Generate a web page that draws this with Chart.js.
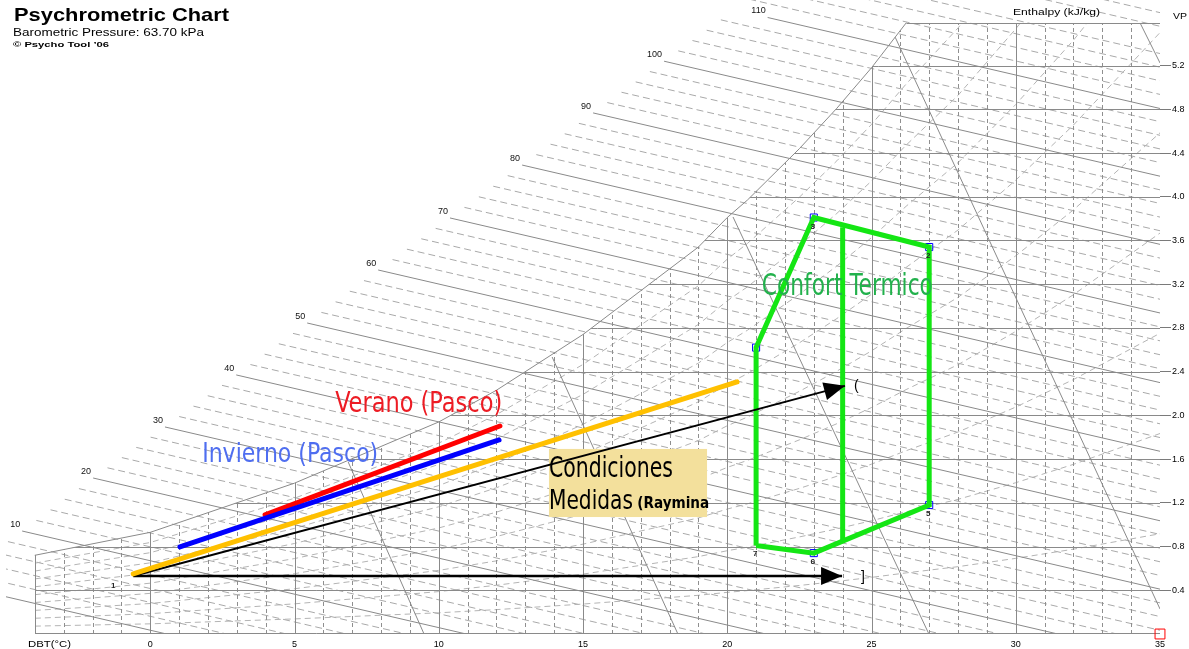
<!DOCTYPE html>
<html>
<head>
<meta charset="utf-8">
<title>Psychrometric Chart</title>
<script src="https://cdn.jsdelivr.net/npm/chart.js@4.4.1/dist/chart.umd.min.js"></script>
<style>
  html, body { margin: 0; padding: 0; background: #fff; overflow: hidden; }
  canvas { display: block; }
</style>
</head>
<body>
<canvas id="psyChart" width="1189" height="649"></canvas>
<script>
// ---- values: DBT in °C, VP in kPa ----

// saturation curve
const satT  = [-4, 0, 5, 10, 12, 15, 19, 20, 20.7, 22.5, 23.8, 25, 26.2];
const satVP = [0.72, 0.93, 1.38, 1.94, 2.23, 2.74, 3.54, 3.81, 3.97, 4.44, 4.81, 5.18, 5.59];
// estimated beyond the frame, only to finish the RH curves
const satExtT  = [28, 30, 32, 35];
const satExtVP = [6.16, 6.92, 7.76, 9.17];
const rhLevels = [0.1, 0.2, 0.3, 0.4, 0.5, 0.6, 0.7, 0.8, 0.9];

// enthalpy scale (kJ/kg): start of each labelled line, common slope
const enthLabels  = [10, 20, 30, 40, 50, 60, 70, 80, 90, 100, 110];
const enthStartT  = [-4.44, -1.98, 0.51, 2.98, 5.44, 7.90, 10.39, 12.89, 15.35, 17.81, 21.40];
const enthStartVP = [0.942, 1.427, 1.894, 2.370, 2.845, 3.330, 3.806, 4.290, 4.767, 5.240, 5.640];
const enthSlope = -0.0612; // kPa per °C

// steep specific volume lines
const volStartT  = [6.86, 13.93, 20.20, 25.82, 34.31];
const volStartVP = [1.574, 2.534, 3.815, 5.46, 5.59];
const volEndT    = [9.49, 18.29, 26.99, 35, 35];
const volEndVP   = [0, 0, 0, 0.229, 5.224];

// measured / climate lines
const veranoT    = [3.98, 12.12];
const veranoVP   = [1.089, 1.903];
const inviernoT  = [1.03, 12.09];
const inviernoVP = [0.796, 1.775];
const medidaT    = [-0.59, 20.34];
const medidaVP   = [0.549, 2.306];
const arrowUpT    = [-0.59, 24.08];
const arrowUpVP   = [0.53, 2.27];
const arrowFlatT  = [-0.59, 23.98];
const arrowFlatVP = [0.53, 0.53];

// comfort zone polygon (point numbers as on the chart)
const comfortNames = ['7', '6', '5', '2', '3', '4'];
const comfortT  = [21, 23, 27, 27, 23, 21];
const comfortVP = [0.81, 0.74, 1.18, 3.54, 3.81, 2.62];
const comfortMidT  = [24, 24];
const comfortMidVP = [3.72, 0.84];

const cornerT  = [35];
const cornerVP = [0];

const xTickValues = [0, 5, 10, 15, 20, 25, 30, 35];

const FONT_UI = "'Liberation Sans', Arial, sans-serif";
const FONT_NOTE = "'DejaVu Sans Condensed', 'Liberation Sans Narrow', 'DejaVu Sans', sans-serif";

const pts = (ts, vs) => ts.map((t, i) => ({ x: t, y: vs[i] }));

// text squeezed/stretched to a given width
function fitText(ctx, str, x, y, w, font, color) {
    ctx.save();
    ctx.font = font;
    const m = ctx.measureText(str).width;
    ctx.translate(x, y);
    ctx.scale(w / m, 1);
    ctx.fillStyle = color;
    ctx.textAlign = 'left';
    ctx.textBaseline = 'alphabetic';
    ctx.fillText(str, 0, 0);
    ctx.restore();
}

function enthStart(h) {
    // position on the enthalpy scale for the unlabelled lines
    let i = Math.floor(h / 10) - 1;
    i = Math.max(0, Math.min(i, 8));
    const f = (h - enthLabels[i]) / 10;
    return [enthStartT[i] + f * (enthStartT[i + 1] - enthStartT[i]),
            enthStartVP[i] + f * (enthStartVP[i + 1] - enthStartVP[i])];
}

const gridPlugin = {
    id: 'psyGrid',
    beforeDatasetsDraw(chart) {
        const { ctx, chartArea: a, scales: { x, y } } = chart;
        const px = v => x.getPixelForValue(v);
        const py = v => y.getPixelForValue(v);
        const snap = v => Math.round(v) + 0.5;
        const top = satVP[satVP.length - 1];

        ctx.save();
        ctx.beginPath();
        ctx.rect(a.left, a.top, a.right - a.left, a.bottom - a.top);
        ctx.clip();
        ctx.lineWidth = 1;

        // enthalpy lines (dashed every 2, solid every 10)
        const drawEnth = (t0, v0) => {
            const tEnd = Math.min(35, t0 - v0 / enthSlope);
            ctx.beginPath();
            ctx.moveTo(px(t0), py(v0));
            ctx.lineTo(px(tEnd), py(v0 + enthSlope * (tEnd - t0)));
            ctx.stroke();
        };
        ctx.strokeStyle = '#a9a9a9';
        ctx.setLineDash([7, 4]);
        for (let h = 2; h <= 128; h += 2) {
            if (h % 10 === 0) continue;
            const s = enthStart(h);
            drawEnth(s[0], s[1]);
        }

        // everything below the saturation curve
        ctx.save();
        ctx.beginPath();
        ctx.moveTo(px(satT[0]), py(0));
        satT.forEach((t, i) => ctx.lineTo(px(t), py(satVP[i])));
        ctx.lineTo(px(35), py(top));
        ctx.lineTo(px(35), py(0));
        ctx.closePath();
        ctx.clip();

        // relative humidity curves
        ctx.strokeStyle = '#b4b4b4';
        ctx.setLineDash([6, 4]);
        const allT = satT.concat(satExtT);
        const allV = satVP.concat(satExtVP);
        rhLevels.forEach(rh => {
            ctx.beginPath();
            allT.forEach((t, i) => {
                if (i === 0) ctx.moveTo(px(t), py(allV[i] * rh));
                else ctx.lineTo(px(t), py(allV[i] * rh));
            });
            ctx.stroke();
        });

        // dry bulb verticals
        for (let t = -4; t <= 35; t++) {
            const solid = t % 5 === 0 || t === -4;
            ctx.strokeStyle = solid ? '#8a8a8a' : '#8f8f8f';
            ctx.setLineDash(solid ? [] : [4, 3]);
            ctx.beginPath();
            ctx.moveTo(snap(px(t)), py(0));
            ctx.lineTo(snap(px(t)), py(top));
            ctx.stroke();
        }
        // vapour pressure horizontals
        ctx.setLineDash([]);
        ctx.strokeStyle = '#8a8a8a';
        for (let v = 0.4; v < 5.3; v += 0.4) {
            ctx.beginPath();
            ctx.moveTo(px(-4), snap(py(v)));
            ctx.lineTo(px(35), snap(py(v)));
            ctx.stroke();
        }
        ctx.restore();

        // solid enthalpy lines
        ctx.setLineDash([]);
        ctx.strokeStyle = '#8a8a8a';
        const s0 = enthStart(0);
        drawEnth(s0[0], s0[1]);
        enthLabels.forEach((h, i) => drawEnth(enthStartT[i], enthStartVP[i]));

        // volume lines
        volStartT.forEach((t, i) => {
            ctx.beginPath();
            ctx.moveTo(px(t), py(volStartVP[i]));
            ctx.lineTo(px(volEndT[i]), py(volEndVP[i]));
            ctx.stroke();
        });

        // frame
        ctx.strokeStyle = '#8a8a8a';
        ctx.beginPath();
        ctx.moveTo(snap(px(satT[satT.length - 1])), snap(py(top)));
        ctx.lineTo(snap(px(35)), snap(py(top)));
        ctx.lineTo(snap(px(35)), snap(py(0)) - 1);
        ctx.lineTo(snap(px(-4)), snap(py(0)) - 1);
        ctx.lineTo(snap(px(-4)), py(satVP[0]));
        ctx.stroke();
        ctx.restore();

        // enthalpy numbers
        ctx.save();
        ctx.font = '9px ' + FONT_UI;
        ctx.fillStyle = '#111';
        ctx.textAlign = 'right';
        enthLabels.forEach((h, i) => {
            ctx.fillText(String(h), px(enthStartT[i]) - 2, py(enthStartVP[i]) - 4);
        });
        ctx.restore();

        // label box behind "Condiciones Medidas"
        ctx.save();
        ctx.fillStyle = '#f3e09c';
        ctx.fillRect(px(13.82), py(1.693), px(19.30) - px(13.82), py(1.070) - py(1.693));
        ctx.restore();
    },
    afterDatasetsDraw(chart) {
        const { ctx, scales: { x, y } } = chart;
        const px = v => x.getPixelForValue(v);
        const py = v => y.getPixelForValue(v);

        // arrow heads
        chart.data.datasets.forEach((ds, i) => {
            if (!ds.arrowHead) return;
            const p = chart.getDatasetMeta(i).data;
            const a = p[p.length - 2], b = p[p.length - 1];
            ctx.save();
            ctx.translate(b.x, b.y);
            ctx.rotate(Math.atan2(b.y - a.y, b.x - a.x));
            ctx.beginPath();
            ctx.moveTo(0, 0);
            ctx.lineTo(-21, -9);
            ctx.lineTo(-21, 9);
            ctx.closePath();
            ctx.fillStyle = '#000';
            ctx.fill();
            ctx.restore();
        });

        // point numbers
        ctx.save();
        ctx.font = 'bold 8px ' + FONT_UI;
        ctx.fillStyle = '#222';
        ctx.textAlign = 'center';
        comfortNames.forEach((n, i) => {
            if (n === '4') return;
            ctx.fillText(n, px(comfortT[i]) - 1, py(comfortVP[i]) + 11);
        });
        ctx.fillText('1', px(arrowUpT[0]) - 20, py(arrowUpVP[0]) + 12);
        ctx.font = '14px ' + FONT_UI;
        ctx.textAlign = 'left';
        ctx.fillStyle = '#000';
        ctx.fillText('(', px(arrowUpT[1]) + 9, py(arrowUpVP[1]) + 4);
        ctx.fillText(']', px(arrowFlatT[1]) + 19, py(arrowFlatVP[1]) + 5);
        ctx.restore();

        // notes
        fitText(ctx, 'Verano (Pasco)', px(6.41), py(2.031), 167, '28px ' + FONT_NOTE, '#ed1c24');
        fitText(ctx, 'Invierno (Pasco)', px(1.80), py(1.574), 176, '27px ' + FONT_NOTE, '#4f6ef0');
        fitText(ctx, 'Confort Termico', px(21.2), py(3.10), 171, '30px ' + FONT_NOTE, '#22b14c');
        fitText(ctx, 'Condiciones', px(13.82), py(1.436), 124, '29px ' + FONT_NOTE, '#000');
        fitText(ctx, 'Medidas', px(13.82), py(1.144), 84, '27px ' + FONT_NOTE, '#000');
        fitText(ctx, '(Raymina', px(16.88), py(1.153), 72, 'bold 16px ' + FONT_NOTE, '#000');
    },
    afterDraw(chart) {
        const { ctx } = chart;
        fitText(ctx, 'Psychrometric Chart', 14, 21, 215, 'bold 19px ' + FONT_UI, '#000');
        fitText(ctx, 'Barometric Pressure: 63.70 kPa', 13, 36, 191, '11px ' + FONT_UI, '#000');
        fitText(ctx, '\u00a9 Psycho Tool \u201906', 13, 47, 96, 'bold 8px ' + FONT_UI, '#000');
        fitText(ctx, 'Enthalpy (kJ/kg)', 1013, 15, 87, '9px ' + FONT_UI, '#000');
        fitText(ctx, 'VP', 1173, 19, 14, '9px ' + FONT_UI, '#000');
        fitText(ctx, 'DBT(\u00b0C)', 28, 647, 43, '9px ' + FONT_UI, '#000');
    }
};

const lineDs = (label, ts, vs, color, width) => ({
    label: label,
    data: pts(ts, vs),
    showLine: true,
    borderColor: color,
    backgroundColor: color,
    borderWidth: width,
    borderCapStyle: 'round',
    pointRadius: 0
});

const arrowUp = lineDs('Flecha 1', arrowUpT, arrowUpVP, '#000', 2);
arrowUp.borderCapStyle = 'butt';
arrowUp.arrowHead = true;
const arrowFlat = lineDs('Flecha 2', arrowFlatT, arrowFlatVP, '#000', 2.5);
arrowFlat.borderCapStyle = 'butt';
arrowFlat.arrowHead = true;

const comfortPoly = lineDs('Confort Termico', comfortT.concat(comfortT[0]), comfortVP.concat(comfortVP[0]), '#14e614', 5);
comfortPoly.borderJoinStyle = 'miter';
comfortPoly.borderCapStyle = 'butt';
const comfortMid = lineDs('Confort (medio)', comfortMidT, comfortMidVP, '#14e614', 5);
comfortMid.borderCapStyle = 'butt';

new Chart(document.getElementById('psyChart'), {
    type: 'scatter',
    data: {
        datasets: [
            lineDs('Saturacion', satT, satVP, '#8a8a8a', 1),
            lineDs('Condiciones Medidas', medidaT, medidaVP, '#ffc000', 5),
            lineDs('Invierno (Pasco)', inviernoT, inviernoVP, '#0000ff', 5),
            lineDs('Verano (Pasco)', veranoT, veranoVP, '#ff0000', 5),
            arrowUp,
            arrowFlat,
            comfortPoly,
            comfortMid,
            {
                label: 'Puntos',
                data: pts(comfortT.slice(1), comfortVP.slice(1)),
                showLine: false,
                pointStyle: 'rect',
                pointRadius: 5,
                borderWidth: 1,
                borderColor: '#0000ff',
                backgroundColor: 'rgba(0,0,0,0)'
            },
            {
                label: 'Esquina',
                data: pts(cornerT, cornerVP),
                showLine: false,
                clip: false,
                pointStyle: 'rect',
                pointRadius: 7,
                borderWidth: 1,
                borderColor: '#ff0000',
                backgroundColor: 'rgba(0,0,0,0)'
            }
        ]
    },
    options: {
        responsive: false,
        animation: false,
        layout: { autoPadding: false, padding: { left: 6, right: 0, top: 0, bottom: 0 } },
        plugins: { legend: { display: false }, tooltip: { enabled: false } },
        scales: {
            x: {
                type: 'linear',
                min: -5,
                max: 35,
                afterFit: s => { s.height = 15; s.paddingLeft = 0; s.paddingRight = 0; },
                afterBuildTicks: s => { s.ticks = xTickValues.map(v => ({ value: v })); },
                grid: { display: false, drawTicks: false, tickLength: 0 },
                border: { display: false },
                ticks: {
                    autoSkip: false,
                    maxRotation: 0,
                    padding: 5,
                    color: '#000',
                    font: { family: FONT_UI, size: 9 }
                }
            },
            y: {
                type: 'linear',
                position: 'right',
                min: 0,
                max: 5.8,
                afterFit: s => { s.width = 29; s.paddingTop = 0; s.paddingBottom = 0; },
                grid: {
                    drawOnChartArea: false,
                    drawTicks: true,
                    tickLength: 11,
                    color: c => (c.tick && c.tick.value > 0.01 && c.tick.value < 5.3) ? '#7a7a7a' : 'rgba(0,0,0,0)'
                },
                border: { display: false },
                ticks: {
                    stepSize: 0.4,
                    padding: 1,
                    color: '#000',
                    font: { family: FONT_UI, size: 9 },
                    callback: v => (v > 0.01 && v < 5.3) ? v.toFixed(1) : ''
                }
            }
        }
    },
    plugins: [gridPlugin]
});
</script>
</body>
</html>
